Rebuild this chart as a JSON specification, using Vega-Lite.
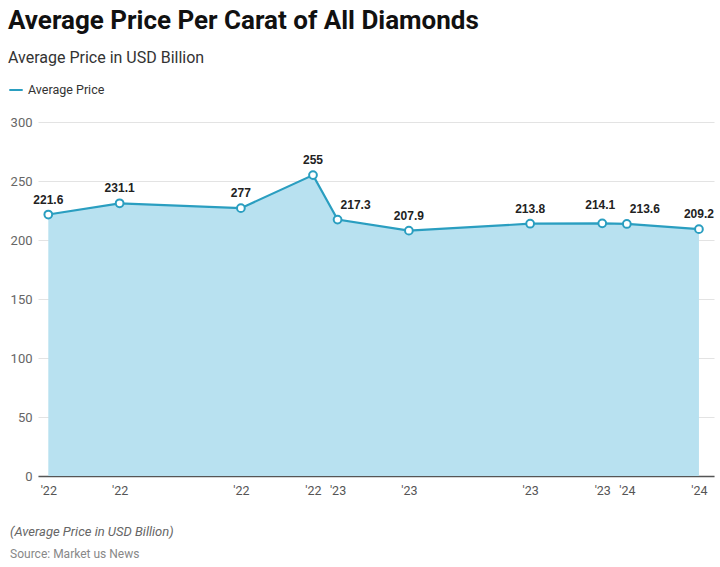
{
  "$schema": "https://vega.github.io/schema/vega-lite/v6.json",
  "background": "white",
  "padding": {"left": 8, "top": 8, "right": 8, "bottom": 6},
  "title": {
    "text": "Average Price Per Carat of All Diamonds",
    "subtitle": "Average Price in USD Billion",
    "anchor": "start",
    "frame": "bounds",
    "font": "Roboto",
    "fontSize": 26,
    "fontWeight": "bold",
    "color": "#111111",
    "subtitleFont": "Roboto",
    "subtitleFontSize": 16,
    "subtitleColor": "#333333",
    "subtitlePadding": 16,
    "offset": 16
  },
  "config": {
    "view": {"stroke": null},
    "font": "Roboto",
    "concat": {"spacing": 0}
  },
  "data": {
    "values": [
      {"date": "2022-01-01", "price": 221.6, "label": "221.6"},
      {"date": "2022-04-01", "price": 231.1, "label": "231.1"},
      {"date": "2022-09-01", "price": 227, "label": "277"},
      {"date": "2022-12-01", "price": 255, "label": "255"},
      {"date": "2023-01-01", "price": 217.3, "label": "217.3"},
      {"date": "2023-04-01", "price": 207.9, "label": "207.9"},
      {"date": "2023-09-01", "price": 213.8, "label": "213.8"},
      {"date": "2023-12-01", "price": 214.1, "label": "214.1"},
      {"date": "2024-01-01", "price": 213.6, "label": "213.6"},
      {"date": "2024-04-01", "price": 209.2, "label": "209.2"}
    ]
  },
  "vconcat": [
    {
      "width": 676,
      "height": 354,
      "title": {
        "text": "(Average Price in USD Billion)",
        "subtitle": "Source: Market us News",
        "orient": "bottom",
        "anchor": "start",
        "frame": "bounds",
        "font": "Roboto",
        "fontSize": 13,
        "fontStyle": "italic",
        "fontWeight": "normal",
        "color": "#666666",
        "subtitleFont": "Roboto",
        "subtitleFontSize": 12,
        "subtitleColor": "#888888",
        "subtitlePadding": 10,
        "offset": 29
      },
      "encoding": {
        "x": {
          "field": "date",
          "type": "temporal",
          "scale": {
            "type": "utc",
            "domain": [{"year": 2021, "month": 12, "date": 19, "utc": true}, {"year": 2024, "month": 4, "date": 20, "utc": true}]
          },
          "axis": {
            "title": null,
            "grid": false,
            "ticks": false,
            "domain": true,
            "domainColor": "#555555",
            "domainWidth": 1.5,
            "labelPadding": 8,
            "labelFontSize": 12.5,
            "labelColor": "#555555",
            "labelFont": "Roboto",
            "labelOverlap": false,
            "labelFlush": false,
            "values": [
              {"year": 2022, "month": 1, "date": 1, "utc": true},
              {"year": 2022, "month": 4, "date": 1, "utc": true},
              {"year": 2022, "month": 9, "date": 1, "utc": true},
              {"year": 2022, "month": 12, "date": 1, "utc": true},
              {"year": 2023, "month": 1, "date": 1, "utc": true},
              {"year": 2023, "month": 4, "date": 1, "utc": true},
              {"year": 2023, "month": 9, "date": 1, "utc": true},
              {"year": 2023, "month": 12, "date": 1, "utc": true},
              {"year": 2024, "month": 1, "date": 1, "utc": true},
              {"year": 2024, "month": 4, "date": 1, "utc": true}
            ],
            "labelExpr": "\"'\" + utcFormat(datum.value, '%y')"
          }
        },
        "y": {
          "field": "price",
          "type": "quantitative",
          "scale": {"domain": [0, 300], "nice": false},
          "axis": {
            "title": null,
            "values": [0, 50, 100, 150, 200, 250, 300],
            "grid": true,
            "gridColor": "#e3e3e3",
            "domain": false,
            "ticks": false,
            "labelPadding": 6,
            "labelFontSize": 13,
            "labelColor": "#666666",
            "labelFont": "Roboto"
          }
        }
      },
      "layer": [
        {
          "mark": {"type": "area", "color": "#b8e1f0", "opacity": 1}
        },
        {
          "mark": {"type": "line", "strokeWidth": 2.2},
          "encoding": {
            "color": {
              "datum": "Average Price",
              "type": "nominal",
              "scale": {"domain": ["Average Price"], "range": ["#2a9ec0"]},
              "legend": {
                "title": null,
                "orient": "none",
                "legendX": -30,
                "legendY": -40,
                "symbolType": "stroke",
                "symbolStrokeWidth": 2,
                "symbolSize": 180,
                "labelFontSize": 12.5,
                "labelColor": "#333333",
                "labelFont": "Roboto"
              }
            }
          }
        },
        {
          "mark": {"type": "point", "filled": true, "fill": "white", "stroke": "#2a9ec0", "strokeWidth": 2, "size": 60, "opacity": 1}
        },
        {
          "transform": [{"filter": "datum.label != '213.6' && datum.label != '214.1' && datum.label != '217.3'"}],
          "mark": {"type": "text", "dy": -15, "font": "Liberation Sans", "fontSize": 12, "fontWeight": "bold", "color": "#222222"},
          "encoding": {"text": {"field": "label"}}
        },
        {
          "transform": [{"filter": "datum.label == '214.1'"}],
          "mark": {"type": "text", "dy": -18, "dx": -2, "font": "Liberation Sans", "fontSize": 12, "fontWeight": "bold", "color": "#222222"},
          "encoding": {"text": {"field": "label"}}
        },
        {
          "transform": [{"filter": "datum.label == '213.6' || datum.label == '217.3'"}],
          "mark": {"type": "text", "dy": -15, "dx": 18, "font": "Liberation Sans", "fontSize": 12, "fontWeight": "bold", "color": "#222222"},
          "encoding": {"text": {"field": "label"}}
        }
      ]
    }
  ]
}
